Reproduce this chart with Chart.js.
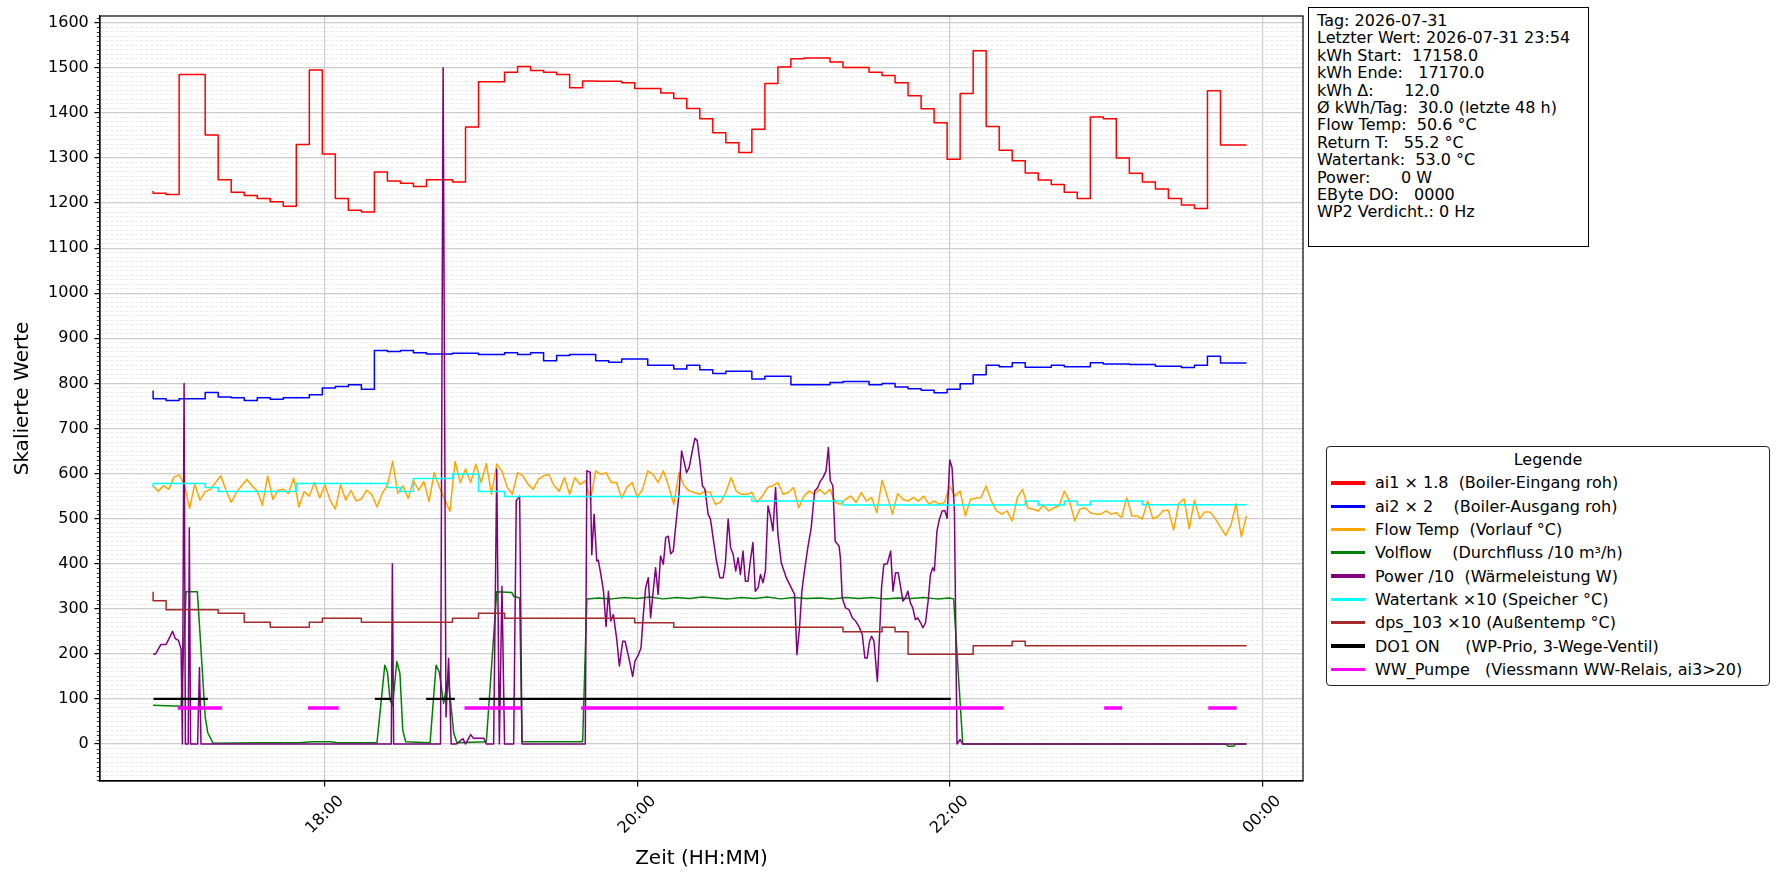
<!DOCTYPE html>
<html>
<head>
<meta charset="utf-8">
<script src="https://cdn.jsdelivr.net/npm/chart.js@4.4.1/dist/chart.umd.min.js"></script>
<style>
body { margin: 0; background: #fff; }
#wrap { position: relative; width: 1782px; height: 884px; }
#chart { position: absolute; left: 0; top: 0; }
.box { position: absolute; font-family: "DejaVu Sans"; color: #000; white-space: pre; box-sizing: border-box; background: #fff; }
#info { left: 1308px; top: 7px; width: 281px; height: 240px; border: 1.3px solid #000; padding: 4px 8px; font-size: 16px; line-height: 17.4px; }
#legende { left: 1326px; top: 446px; width: 444px; height: 240px; border: 1px solid #222; border-radius: 4px; font-size: 16px; padding-top: 1px; }
#legende .titel { height: 23.3px; line-height: 23.3px; text-align: center; }
#legende .zeile { height: 23.3px; display: flex; align-items: center; }
#legende .muster { width: 34px; height: 3.3px; margin-left: 4px; margin-right: 10px; }
</style>
</head>
<body>
<div id="wrap">
  <canvas id="chart" width="1782" height="884"></canvas>
  <div id="info" class="box"></div>
  <div id="legende" class="box"></div>
</div>
<script>
// ---- Achsen ----
const xStart = '16:33:36';
const xEnde = '24:15:42';
const xTickZeiten = ['18:00', '20:00', '22:00', '24:00'];
const xTickTexte = ['18:00', '20:00', '22:00', '00:00'];
const yMin = -82;
const yMax = 1615;

// ---- ai1 x 1.8 (Stufen) ----
const ai1Zeit = ['16:54','16:59','17:04','17:14','17:19','17:24','17:29','17:34','17:39','17:44','17:49','17:54','17:59',
  '18:04','18:09','18:14','18:19','18:24','18:29','18:34','18:39','18:49','18:54','18:59','19:09','19:14','19:19','19:24',
  '19:29','19:34','19:39','19:44','19:54','19:59','20:09','20:14','20:19','20:24','20:29','20:34','20:39','20:44','20:49',
  '20:54','20:59','21:04','21:14','21:19','21:29','21:34','21:39','21:44','21:49','21:54','21:59','22:04','22:09','22:14',
  '22:19','22:24','22:29','22:34','22:39','22:44','22:49','22:54','22:59','23:04','23:09','23:14','23:19','23:24','23:29',
  '23:34','23:39','23:44','23:49','23:54'];
const ai1Wert = [1227,1222,1219,1485,1351,1252,1224,1217,1210,1203,1193,1330,1495,
  1309,1210,1184,1180,1269,1249,1244,1237,1252,1247,1369,1469,1490,1503,1494,
  1490,1485,1456,1471,1470,1467,1454,1444,1432,1410,1387,1356,1334,1312,1364,
  1465,1502,1520,1522,1513,1501,1490,1483,1467,1438,1409,1378,1297,1443,1538,
  1370,1317,1294,1267,1251,1241,1224,1210,1391,1387,1300,1266,1247,1231,1210,
  1196,1188,1449,1329,1329];

// ---- ai2 x 2 (Stufen) ----
const ai2Zeit = ['16:54','16:59','17:04','17:14','17:19','17:24','17:29','17:34','17:39','17:44','17:54','17:59','18:04',
  '18:09','18:14','18:19','18:24','18:29','18:34','18:39','18:49','18:59','19:09','19:14','19:19','19:24','19:29','19:34',
  '19:44','19:49','19:54','20:04','20:14','20:19','20:24','20:29','20:34','20:44','20:49','20:59','21:14','21:19','21:29',
  '21:34','21:39','21:44','21:49','21:54','21:59','22:04','22:09','22:14','22:19','22:24','22:29','22:39','22:44','22:54',
  '22:59','23:09','23:19','23:29','23:34','23:39','23:44','23:49','23:54'];
const ai2Wert = [784,766,762,766,780,770,768,762,768,765,768,775,790,
  793,797,787,873,871,873,868,865,867,864,868,864,868,850,862,
  864,850,847,854,840,832,840,830,822,827,810,816,797,802,804,
  797,800,792,788,785,779,787,799,819,840,837,846,836,840,837,
  846,843,842,838,835,840,860,845,845];

// ---- Flow Temp (alle 2 min ab 16:54) ----
const flowStart = '16:54';
const flowSchritt = 2;
const flowWert = [573,561,573,565,592,597,576,523,576,541,
  560,565,580,595,563,536,558,573,587,573,
  561,530,595,543,563,565,556,590,526,560,
  550,580,546,575,541,521,575,541,563,539,
  544,563,554,526,556,574,627,556,573,545,
  585,563,582,538,602,569,543,516,627,580,
  610,580,621,580,622,554,621,605,570,554,
  602,595,576,565,587,595,598,573,561,591,
  554,591,576,584,541,606,598,602,580,580,
  545,570,580,547,565,606,598,580,606,573,
  532,602,573,561,558,554,561,558,532,536,
  558,591,561,554,554,558,536,550,569,573,
  580,554,558,569,524,550,561,554,565,554,
  565,536,532,543,550,536,558,539,547,513,
  585,550,510,556,543,539,547,539,550,532,
  539,532,536,572,550,561,506,543,545,547,
  572,539,517,510,517,495,547,565,524,521,
  517,530,517,524,528,561,539,495,521,524,
  513,510,510,517,510,513,502,547,506,506,
  499,539,500,505,518,518,475,533,544,478,
  541,500,515,515,500,481,463,485,533,460,506];

// ---- Volflow ----
const volZeit = ['16:54','17:04:45','17:06:40','17:11','17:14','17:15','17:17','17:35','17:50','17:55','18:02','18:05',
  '18:20','18:23','18:24','18:25','18:26','18:27:36','18:28:48','18:29:54','18:31','18:40:24','18:42:42','18:43:54',
  '18:45:36','18:47:18','18:48:30','18:49:30','18:50:42','19:02','19:06','19:11:48','19:12:30','19:14:48','19:15:42',
  '19:39','19:40:36','19:45','19:50','19:55','20:00','20:05','20:10','20:15','20:20','20:25','20:30','20:35','20:40',
  '20:45','20:50','20:55','21:00','21:05','21:10','21:15','21:20','21:25','21:30','21:35','21:40','21:45','21:50',
  '21:55','22:00','22:01:30','22:05','23:46','23:47','23:49','23:50','23:54'];
const volWert = [86,84,338,338,61,25,2,3,3,5,5,3,
  3,175,160,98,85,183,157,31,5,3,175,160,
  90,148,80,24,3,5,338,336,328,324,5,
  5,322,324,322,325,323,326,322,325,323,326,324,322,325,
  323,326,322,325,323,324,322,325,323,325,322,324,323,325,
  322,324,322,0,0,-5,-5,0,0];

// ---- Power /10 ----
const powZeit = ['16:54','16:55','16:57','16:59','17:01:30','17:02:30','17:03:45','17:04:45','17:05:15','17:05:54',
  '17:06:24','17:07:30','17:07:54','17:08:24','17:11:06','17:11:48','17:12:24','18:25:30','18:25:54','18:26:24',
  '18:44:24','18:45:24','18:46:30','18:47:30','18:48:30','18:50:30','18:53','18:54','18:56','18:57','19:01','19:02',
  '19:04:48','19:06','19:07','19:08','19:09','19:12:30','19:13:30','19:14:48','19:15:42','19:40',
  '19:40:36','19:41:54','19:42:30','19:43:24','19:44:24','19:45','19:46','19:47','19:48','19:48:54','19:49:48',
  '19:50:48','19:52:06','19:53:06','19:54:24','19:55:18','19:56:36','19:58:12','19:59:06','20:00:24','20:01:24',
  '20:02:18','20:03:12','20:04:12','20:05:06','20:06:06','20:07','20:08','20:08:54','20:10','20:10:54','20:11:54',
  '20:12:48','20:13:48','20:14:48','20:16','20:17','20:17:54','20:18:54','20:19:54','20:21:06','20:22:06','20:23',
  '20:24','20:25','20:26','20:27:12','20:28:06','20:29:06','20:30:24','20:31:42','20:33','20:33:48','20:34:54',
  '20:35:48','20:36:48','20:37:48','20:38:42','20:39:36','20:40:36','20:41:30','20:42:30','20:43:24','20:44:24',
  '20:45:18','20:46:24','20:47:18','20:48:18','20:49:12','20:50:12','20:51:06','20:52:06','20:53:06','20:54',
  '20:55:18','20:57:12','20:59:06','21:00:24','21:01:18','21:02:18','21:03:12','21:04:12','21:05:30','21:06:48',
  '21:08:06','21:09:18','21:10:12','21:11:18','21:12:30','21:13:24','21:14:06','21:15:06','21:16','21:17:30',
  '21:18','21:18:42','21:20','21:21:18','21:22:36','21:23:48','21:25:06','21:26:24','21:27:24','21:28:18',
  '21:29:12','21:30','21:30:54','21:32:12','21:33:06','21:33:48','21:34:42','21:36','21:37:18','21:38:12',
  '21:39:12','21:40:12','21:41:06','21:42','21:43','21:43:54','21:44:54','21:45:48','21:46:48','21:47:42',
  '21:48:48','21:49:42','21:50:42','21:51:42','21:52:36','21:53:30','21:54:06','21:55:06','21:56','21:57:06',
  '21:58:06','21:59','22:00','22:00:54','22:01:48','22:02:48','22:04','22:05','23:54'];
const powWert = [200,200,221,221,250,234,230,211,0,800,
  0,0,480,0,0,170,0,0,400,0,
  0,1500,60,190,0,0,12,0,21,13,13,0,
  0,610,0,350,0,0,540,550,0,0,
  606,603,420,510,406,408,376,339,261,339,273,
  287,232,173,228,228,195,150,184,198,213,
  287,347,369,280,339,391,332,417,399,458,461,
  422,428,487,554,650,628,602,613,650,678,673,
  628,573,565,510,499,458,406,369,369,399,499,
  436,421,384,413,376,428,361,361,406,447,
  339,347,376,358,384,528,506,473,569,465,
  402,369,347,332,198,258,339,384,436,480,
  561,569,582,591,606,658,584,573,450,439,
  413,324,302,298,280,273,261,243,191,191,
  228,239,228,139,250,347,399,400,428,339,
  380,380,350,317,324,339,313,302,276,280,
  269,258,269,317,376,391,384,473,498,517,
  518,501,630,613,517,0,10,0,0];

// ---- Watertank x10 (Stufen) ----
const tankZeit = ['16:54','17:14','17:19','17:49','18:24','18:29','18:34','18:49','18:59','19:09','20:44','21:19',
  '22:29','22:34','22:44','22:49','22:54','23:14','23:24','23:54'];
const tankWert = [569,578,569,560,578,569,560,589,599,560,549,539,
  530,539,530,539,530,539,531,531];

// ---- dps_103 x10 (Stufen) ----
const dpsZeit = ['16:54','16:59','17:19','17:29','17:39','17:54','17:59','18:14','18:49','18:59','19:09','19:59',
  '20:14','21:19','21:34','21:39','21:44','22:09','22:24','22:29','22:34','23:54'];
const dpsWert = [338,318,298,290,270,259,270,279,270,279,290,279,
  269,259,249,259,249,199,218,228,218,218];

// ---- DO1 ON / WW_Pumpe (Zeitfenster) ----
const do1Von = ['16:54:36', '18:19:36', '18:39:18', '18:59:42'];
const do1Bis = ['17:14:36', '18:25:06', '18:49:30', '22:00:00'];
const do1Wert = 100;
const wwVon = ['17:04:12', '17:54:12', '18:54:18', '19:39:06', '23:00:00', '23:40:00'];
const wwBis = ['17:19:48', '18:04:36', '19:14:36', '22:20:00', '23:05:30', '23:49:30'];
const wwWert = 80;

// ---- Legende / Info ----
const namen = [
    'ai1 × 1.8  (Boiler-Eingang roh)',
    'ai2 × 2    (Boiler-Ausgang roh)',
    'Flow Temp  (Vorlauf °C)',
    'Volflow    (Durchfluss /10 m³/h)',
    'Power /10  (Wärmeleistung W)',
    'Watertank ×10 (Speicher °C)',
    'dps_103 ×10 (Außentemp °C)',
    'DO1 ON     (WP-Prio, 3-Wege-Ventil)',
    'WW_Pumpe   (Viessmann WW-Relais, ai3>20)'
];
const farben = ['#ff0000', '#0000ff', '#ffa500', '#008000', '#800080', '#00ffff', '#a52a2a', '#000000', '#ff00ff'];
const breiten = [1.5, 1.5, 1.5, 1.5, 1.5, 1.5, 1.5, 2.2, 3.6];
const infoZeilen = [
    'Tag: 2026-07-31',
    'Letzter Wert: 2026-07-31 23:54',
    'kWh Start:  17158.0',
    'kWh Ende:   17170.0',
    'kWh Δ:      12.0',
    'Ø kWh/Tag:  30.0 (letzte 48 h)',
    'Flow Temp:  50.6 °C',
    'Return T:   55.2 °C',
    'Watertank:  53.0 °C',
    'Power:      0 W',
    'EByte DO:   0000',
    'WP2 Verdicht.: 0 Hz'
];

function minuten(t) {
    const p = t.split(':').map(Number);
    return p[0] * 60 + p[1] + (p[2] || 0) / 60;
}

function punkte(zeiten, werte) {
    return zeiten.map((t, i) => ({ x: minuten(t), y: werte[i] }));
}

function reihe(start, schritt, werte) {
    const s = minuten(start);
    return werte.map((v, i) => ({ x: s + i * schritt, y: v }));
}

function fenster(von, bis, wert) {
    const d = [];
    von.forEach((t, i) => {
        d.push({ x: minuten(t), y: wert });
        d.push({ x: minuten(bis[i]), y: wert });
        d.push({ x: minuten(bis[i]), y: null });
    });
    return d;
}

const reihen = [
    punkte(ai1Zeit, ai1Wert),
    punkte(ai2Zeit, ai2Wert),
    reihe(flowStart, flowSchritt, flowWert),
    punkte(volZeit, volWert),
    punkte(powZeit, powWert),
    punkte(tankZeit, tankWert),
    punkte(dpsZeit, dpsWert),
    fenster(do1Von, do1Bis, do1Wert),
    fenster(wwVon, wwBis, wwWert)
];
const stufen = [true, true, false, false, false, true, true, false, false];

const datasets = reihen.map((d, i) => ({
    label: namen[i],
    data: d,
    borderColor: farben[i],
    backgroundColor: farben[i],
    borderWidth: breiten[i],
    stepped: stufen[i] ? 'after' : false,
    borderJoinStyle: 'round',
    borderCapStyle: i >= 7 ? 'square' : 'butt',
    spanGaps: false,
    pointRadius: 0,
    fill: false,
    order: namen.length - i
}));

function istHaupt(ctx) {
    return ctx.tick && Math.round(ctx.tick.value) % 100 === 0;
}

const rahmen = {
    id: 'rahmen',
    afterDraw(chart) {
        const { ctx, chartArea: a, scales } = chart;
        ctx.save();
        // kleine Striche an der y-Achse
        ctx.strokeStyle = '#000';
        ctx.lineWidth = 0.8;
        scales.y.ticks.forEach(t => {
            if (Math.round(t.value) % 100 === 0) return;
            const py = Math.round(scales.y.getPixelForValue(t.value)) + 0.5;
            ctx.beginPath();
            ctx.moveTo(a.left - 3.2, py);
            ctx.lineTo(a.left, py);
            ctx.stroke();
        });
        // Rahmen
        ctx.lineWidth = 1.2;
        ctx.strokeRect(a.left, a.top, a.right - a.left, a.bottom - a.top);
        // x-Beschriftung, 45 Grad gedreht, mittig
        ctx.font = '16px "DejaVu Sans"';
        ctx.fillStyle = '#000';
        ctx.textAlign = 'center';
        ctx.textBaseline = 'middle';
        xTickZeiten.forEach((z, i) => {
            const px = scales.x.getPixelForValue(minuten(z));
            const w = ctx.measureText(xTickTexte[i]).width;
            const h = 16 * 1.15;
            const bh = (w + h) * Math.SQRT1_2;
            ctx.save();
            ctx.translate(px, a.bottom + 11 + bh / 2);
            ctx.rotate(-Math.PI / 4);
            ctx.fillText(xTickTexte[i], 0, 0);
            ctx.restore();
        });
        ctx.restore();
    }
};

new Chart(document.getElementById('chart').getContext('2d'), {
    type: 'line',
    data: { datasets: datasets },
    plugins: [rahmen],
    options: {
        responsive: false,
        animation: false,
        devicePixelRatio: 1,
        layout: { padding: { top: 16, right: 479, left: 0, bottom: 0 } },
        plugins: { legend: { display: false }, tooltip: { enabled: false } },
        scales: {
            x: {
                type: 'linear',
                min: minuten(xStart),
                max: minuten(xEnde),
                afterBuildTicks: s => { s.ticks = xTickZeiten.map(z => ({ value: minuten(z) })); },
                afterFit: s => { s.height = 103; },
                ticks: { display: false },
                grid: { color: '#cccccc', lineWidth: 1.2, tickLength: 5.6, tickColor: '#000', tickWidth: 1.2 },
                border: { color: '#000', width: 1.2 },
                title: {
                    display: true, text: 'Zeit (HH:MM)', color: '#000',
                    font: { family: 'DejaVu Sans', size: 20 }, padding: { top: 0, bottom: 13 }
                }
            },
            y: {
                min: yMin,
                max: yMax,
                afterBuildTicks: s => {
                    const t = [];
                    for (let v = -80; v <= 1610; v += 10) t.push({ value: v });
                    s.ticks = t;
                },
                afterFit: s => { s.width = 100; },
                ticks: {
                    autoSkip: false, padding: 5.6, color: '#000',
                    font: { family: 'DejaVu Sans', size: 16 },
                    callback: v => (Math.round(v) % 100 === 0 ? v : '')
                },
                grid: {
                    color: c => (istHaupt(c) ? '#cccccc' : '#e3e3e3'),
                    lineWidth: c => (istHaupt(c) ? 1.2 : 0.8),
                    tickLength: 5.6,
                    tickColor: c => (istHaupt(c) ? '#000' : 'rgba(0,0,0,0)'),
                    tickWidth: 1.2
                },
                border: {
                    color: '#000', width: 1.2,
                    dash: c => (c.tick && !istHaupt(c) ? [3, 2] : [])
                },
                title: {
                    display: true, text: 'Skalierte Werte', color: '#000',
                    font: { family: 'DejaVu Sans', size: 20 }, padding: { top: 11, bottom: 0 }
                }
            }
        }
    }
});

document.getElementById('info').textContent = infoZeilen.join('\n');

const leg = document.getElementById('legende');
let html = '<div class="titel">Legende</div>';
namen.forEach((n, i) => {
    html += '<div class="zeile"><span class="muster" style="background:' + farben[i] + '"></span><span></span></div>';
});
leg.innerHTML = html;
leg.querySelectorAll('.zeile span:last-child').forEach((s, i) => { s.textContent = namen[i]; });
</script>
</body>
</html>
